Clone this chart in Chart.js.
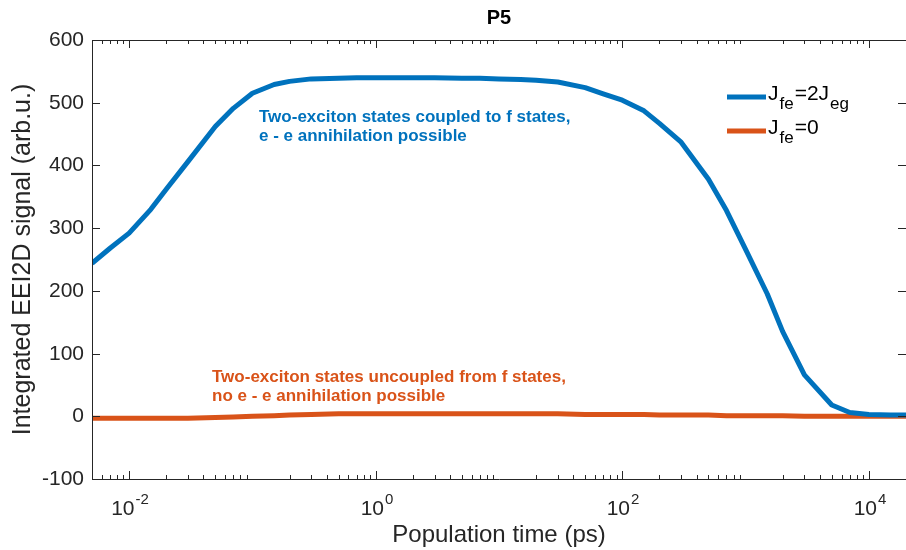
<!DOCTYPE html>
<html><head><meta charset="utf-8">
<script src="https://cdn.jsdelivr.net/npm/chart.js@4"></script>
<style>html,body{margin:0;padding:0;background:#fff}#wrap{width:906px;height:550px}</style>
</head><body><div id="wrap"><canvas id="c" width="906" height="550"></canvas></div>
<script>
// ---- data ----
const times = [0.005,0.007,0.01,0.015,0.02,0.03,0.05,0.07,0.1,0.15,0.2,0.3,0.5,0.7,1,1.5,2,3,5,7,10,15,20,30,50,70,100,150,200,300,500,700,1000,1500,2000,3000,5000,7000,10000,15000,20000];
const coupled = [244,268,292,330,362,406,462,491,515,529,534,538,539,540,540,540,540,540,539,539,538,537,536,533,524,514,504,487,467,437,378,328,266,195,135,66,18,6,3,2,2];
const uncoupled = [-3,-3,-3,-3,-3,-3,-2,-1,0,1,2,3,4,4,4,4,4,4,4,4,4,4,4,4,3,3,3,3,2,2,2,1,1,1,1,0,0,0,0,0,0];
const seriesNames = ['Jfe=2Jeg','Jfe=0'];
const legendParts = [[['J',0],['fe',1],['=2J',0],['eg',1]], [['J',0],['fe',1],['=0',0]]];
const xTickValues = [0.01,1,100,10000];
const xTickExponents = ['-2','0','2','4'];
const yTickValues = [-100,0,100,200,300,400,500,600];
const titleText = 'P5';
const xTitle = 'Population time (ps)';
const yTitle = 'Integrated EEI2D signal (arb.u.)';
const noteCoupled = ['Two-exciton states coupled to f states,','e - e annihilation possible'];
const noteUncoupled = ['Two-exciton states uncoupled from f states,','no e - e annihilation possible'];

const BLUE = '#0072BD', ORANGE = '#D95319', AX = '#262626';
const FF = '"Liberation Sans", Arial, Helvetica, sans-serif';

const decor = {
  id: 'decor',
  afterDraw(chart) {
    const ctx = chart.ctx, ca = chart.chartArea;
    const xs = chart.scales.x, ys = chart.scales.y;
    ctx.save();
    // box
    ctx.strokeStyle = AX; ctx.lineWidth = 1;
    ctx.beginPath();
    ctx.moveTo(ca.left + 0.5, ca.bottom + 0.5);
    ctx.lineTo(ca.left + 0.5, ca.top + 0.5);
    ctx.lineTo(ca.right + 0.5, ca.top + 0.5);
    ctx.lineTo(ca.right + 0.5, ca.bottom + 0.5);
    ctx.lineTo(ca.left + 0.5, ca.bottom + 0.5);
    ctx.stroke();
    // y ticks
    ctx.fillStyle = AX;
    ctx.font = '21px ' + FF;
    ctx.textAlign = 'right'; ctx.textBaseline = 'middle';
    yTickValues.forEach(v => {
      const py = Math.round(ys.getPixelForValue(v)) + 0.5;
      ctx.beginPath();
      ctx.moveTo(ca.left, py); ctx.lineTo(ca.left + 8, py);
      ctx.moveTo(ca.right, py); ctx.lineTo(ca.right - 8, py);
      ctx.stroke();
      ctx.fillText(String(v), ca.left - 8, py);
    });
    // x minor ticks
    ctx.beginPath();
    for (let n = -3; n <= 4; n++) {
      for (let k = 2; k <= 9; k++) {
        const v = k * Math.pow(10, n);
        if (v < xs.min || v > xs.max) continue;
        const px = Math.round(xs.getPixelForValue(v)) + 0.5;
        ctx.moveTo(px, ca.bottom); ctx.lineTo(px, ca.bottom - 4);
        ctx.moveTo(px, ca.top); ctx.lineTo(px, ca.top + 4);
      }
    }
    ctx.stroke();
    // x major ticks and labels
    xTickValues.forEach((v, i) => {
      const px = Math.round(xs.getPixelForValue(v)) + 0.5;
      ctx.beginPath();
      ctx.moveTo(px, ca.bottom); ctx.lineTo(px, ca.bottom - 8);
      ctx.moveTo(px, ca.top); ctx.lineTo(px, ca.top + 8);
      ctx.stroke();
      ctx.font = '21px ' + FF;
      const w1 = ctx.measureText('10').width;
      ctx.font = '15px ' + FF;
      const w2 = ctx.measureText(xTickExponents[i]).width;
      const x0 = px - (w1 + w2) / 2;
      ctx.textAlign = 'left'; ctx.textBaseline = 'alphabetic';
      ctx.font = '21px ' + FF;
      ctx.fillText('10', x0, 515);
      ctx.font = '15px ' + FF;
      ctx.fillText(xTickExponents[i], x0 + w1 + 1, 504);
    });
    // title
    ctx.textAlign = 'center'; ctx.textBaseline = 'middle';
    ctx.font = 'bold 20px ' + FF;
    ctx.fillStyle = '#000';
    ctx.fillText(titleText, (ca.left + ca.right) / 2, 18);
    // axis titles
    ctx.fillStyle = AX;
    ctx.font = '24px ' + FF;
    ctx.fillText(xTitle, (ca.left + ca.right) / 2, 535);
    ctx.save();
    ctx.font = '25px ' + FF;
    ctx.translate(23, (ca.top + ca.bottom) / 2);
    ctx.rotate(-Math.PI / 2);
    ctx.fillText(yTitle, 0, 0);
    ctx.restore();
    // annotations
    ctx.textAlign = 'left'; ctx.textBaseline = 'alphabetic';
    ctx.font = 'bold 17px ' + FF;
    ctx.fillStyle = BLUE;
    noteCoupled.forEach((s, i) => ctx.fillText(s, 259, 122 + i * 19));
    ctx.fillStyle = ORANGE;
    noteUncoupled.forEach((s, i) => ctx.fillText(s, 212, 382 + i * 19));
    // legend
    const colors = [BLUE, ORANGE];
    const rowsY = [97, 131];
    legendParts.forEach((parts, r) => {
      const ly = rowsY[r];
      ctx.strokeStyle = colors[r]; ctx.lineWidth = 5; ctx.lineCap = 'butt';
      ctx.beginPath(); ctx.moveTo(727, ly); ctx.lineTo(766, ly); ctx.stroke();
      let x = 768;
      ctx.fillStyle = '#000';
      parts.forEach(([txt, sub]) => {
        ctx.font = (sub ? '17px ' : '21px ') + FF;
        ctx.fillText(txt, x, ly + 3 + (sub ? 9 : 0));
        x += ctx.measureText(txt).width + 1;
      });
    });
    ctx.restore();
  }
};

const mk = arr => times.map((t, i) => ({ x: t, y: arr[i] }));
new Chart(document.getElementById('c'), {
  type: 'line',
  data: {
    datasets: [
      { label: seriesNames[0], data: mk(coupled), borderColor: BLUE, borderWidth: 5, pointRadius: 0, tension: 0, fill: false, borderJoinStyle: 'round' },
      { label: seriesNames[1], data: mk(uncoupled), borderColor: ORANGE, borderWidth: 5, pointRadius: 0, tension: 0, fill: false, borderJoinStyle: 'round' }
    ]
  },
  options: {
    responsive: false, animation: false, devicePixelRatio: 1,
    layout: { padding: { top: 40, right: 0, left: 0, bottom: 0 } },
    plugins: { legend: { display: false }, title: { display: false }, tooltip: { enabled: false } },
    scales: {
      x: { type: 'logarithmic', min: 0.005, max: 20000, grid: { display: false }, border: { display: false }, ticks: { display: false }, afterFit(s) { s.height = 71; } },
      y: { type: 'linear', min: -100, max: 600, grid: { display: false }, border: { display: false }, ticks: { display: false }, afterFit(s) { s.width = 92; } }
    }
  },
  plugins: [decor]
});
</script>
</body></html>
